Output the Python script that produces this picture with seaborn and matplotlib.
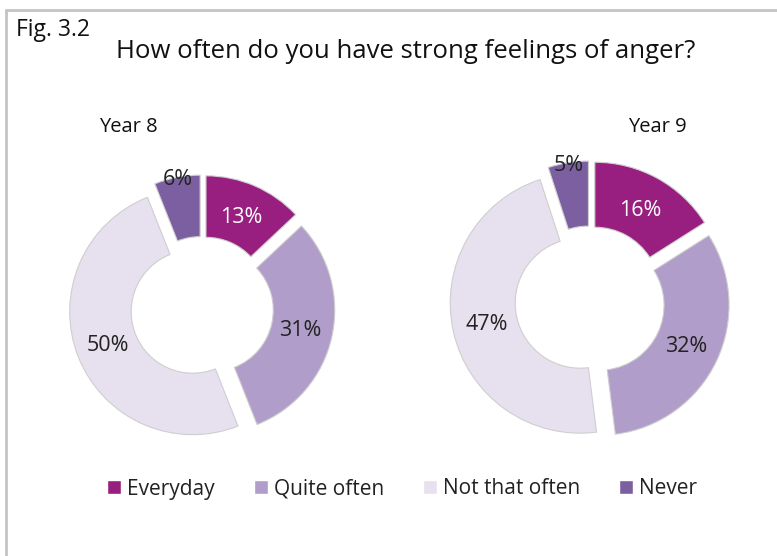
import matplotlib
matplotlib.use("Agg")
import matplotlib.pyplot as plt
from matplotlib.lines import Line2D
from matplotlib.patches import Patch
import numpy as np
import seaborn as sns

# Survey data
categories = ["Everyday", "Quite often", "Not that often", "Never"]
year8 = [13, 31, 50, 6]
year9 = [16, 32, 47, 5]
panel_titles = ["Year 8", "Year 9"]
title = "How often do you have strong feelings of anger?"
fig_label = "Fig. 3.2"

sns.set_theme(style="white")
plt.rcParams["font.family"] = ["Open Sans", "DejaVu Sans"]

palette = sns.color_palette(["#981f7f", "#b09dc9", "#e6e0ef", "#7b5fa0"])
text_colors = ["white", "#222222", "#222222", "#222222"]
label_radius = [0.72, 0.74, 0.74, 0.98]   # fraction of outer radius for each label

W, H = 777, 556
fig = plt.figure(figsize=(W / 100, H / 100), dpi=100)
ax = fig.add_axes([0, 0, 1, 1])

donuts = [
    dict(values=year8, cx=202, cy=308, r=123, title_xy=(128, 127)),
    dict(values=year9, cx=590, cy=301, r=130, title_xy=(657, 127)),
]
explode_px = 10

for d, name in zip(donuts, panel_titles):
    cx, cy, R = d["cx"], H - d["cy"], d["r"]
    wedges, _ = ax.pie(
        d["values"], colors=palette, startangle=90, counterclock=False,
        center=(cx, cy), radius=R, explode=[explode_px] * len(d["values"]),
        wedgeprops=dict(width=R * 0.5, edgecolor="#cfcfcf", linewidth=0.8),
    )
    for w, v, tc, lr in zip(wedges, d["values"], text_colors, label_radius):
        mid = np.deg2rad((w.theta1 + w.theta2) / 2)
        wx, wy = w.center
        ax.text(wx + lr * R * np.cos(mid), wy + lr * R * np.sin(mid), f"{v}%",
                ha="center", va="center", fontsize=15.5, color=tc)
    tx, ty = d["title_xy"]
    ax.text(tx, H - ty, name, ha="center", va="center", fontsize=14.5, color="#111111")

ax.set_xlim(0, W)
ax.set_ylim(0, H)
ax.set_aspect("equal")
ax.axis("off")

# Titles
fig.text(16 / W, 1 - 30 / H, fig_label, ha="left", va="center", fontsize=16.5, color="#111111")
fig.text(116 / W, 1 - 51 / H, title, ha="left", va="center", fontsize=18.5, color="#111111")

# Panel frame (top and left edges)
fig.add_artist(Line2D([6 / W, 1], [1 - 10 / H, 1 - 10 / H], transform=fig.transFigure,
                      color="#c4c4c4", linewidth=2))
fig.add_artist(Line2D([6 / W, 6 / W], [0, 1 - 10 / H], transform=fig.transFigure,
                      color="#c4c4c4", linewidth=2))

# Legend
handles = [Patch(facecolor=c, edgecolor="white") for c in palette]
fig.legend(handles, categories, loc="center", bbox_to_anchor=(402 / W, 1 - 489 / H),
           ncol=4, frameon=False, fontsize=15, handlelength=0.67, handleheight=0.67,
           handletextpad=0.3, columnspacing=1.85, labelcolor="#222222")

fig.savefig("out.png", dpi=100)
